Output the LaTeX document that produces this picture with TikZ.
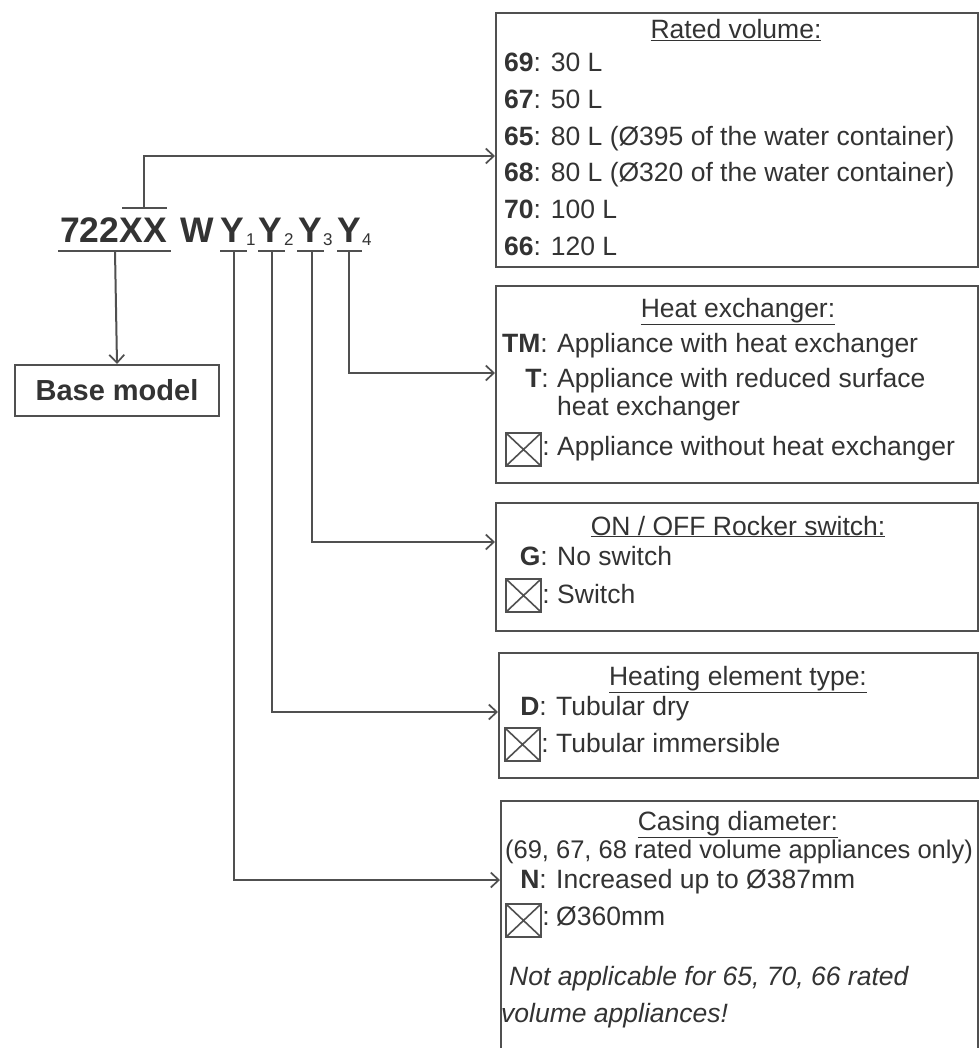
\documentclass[tikz,border=0pt]{standalone}
\usepackage{fontspec}
\setmainfont{Liberation Sans}
\usetikzlibrary{arrows.meta}
\definecolor{ink}{HTML}{333333}
\definecolor{edge}{HTML}{505050}
\begin{document}
\begin{tikzpicture}[x=1pt,y=-1pt,
  txt/.style={inner sep=0pt, anchor=base west, text=ink, font=\fontsize{26.5}{30}\selectfont},
  lbl/.style={txt, anchor=base east},
  ttl/.style={txt, anchor=base},
  ital/.style={txt, font=\fontsize{26.5}{30}\selectfont\itshape},
  code/.style={inner sep=0pt, anchor=base west, text=ink, font=\fontsize{35.5}{40}\selectfont\bfseries},
  subs/.style={inner sep=0pt, anchor=base west, text=ink, font=\fontsize{17}{20}\selectfont},
  panel/.style={draw=edge, line width=2pt, anchor=north west, inner sep=0pt},
  conn/.style={draw=edge, line width=2pt, -{Straight Barb[length=8pt,width=15pt,line width=1.7pt]}},
  bar/.style={draw=edge, line width=2.4pt},
  xbox/.style={draw=edge, line width=2pt, minimum width=35pt, minimum height=33pt, inner sep=0pt, anchor=north west,
    path picture={\draw[edge,line width=1.6pt] (path picture bounding box.south west) -- (path picture bounding box.north east)
      (path picture bounding box.north west) -- (path picture bounding box.south east);}}
]
\clip (0,0) rectangle (979,1048);
\fill[white] (0,0) rectangle (979,1048);

% ---------- code line ----------
\node[code] (c722) at (60,243) {722};
\node[code] (cXX) at (c722.base east) {XX};
\node[code] (cW) at (180,243) {W};
\node[code] (cY1) at (220,243) {Y};
\node[subs] (s1) at (246,246) {1};
\node[code] (cY2) at (258,243) {Y};
\node[subs] (s2) at (284,246) {2};
\node[code] (cY3) at (298,243) {Y};
\node[subs] (s3) at (323,246) {3};
\node[code] (cY4) at (337,243) {Y};
\node[subs] (s4) at (362,246) {4};

\draw[bar] (58,251) -- (171,251);
\draw[bar] (122,208) -- (167,208);
\draw[bar] (220,251) -- (247,251);
\draw[bar] (258,251) -- (285,251);
\draw[bar] (297,251) -- (324,251);
\draw[bar] (337,251) -- (362,251);

\coordinate (u722) at (115,251);
\coordinate (oXX) at (144,208);
\coordinate (u1) at (234,251);
\coordinate (u2) at (272,251);
\coordinate (u3) at (312,251);
\coordinate (u4) at (349,251);

\coordinate (h1) at (0,156);
\coordinate (h2) at (0,373);
\coordinate (h3) at (0,542);
\coordinate (h4) at (0,712);
\coordinate (h5) at (0,880);

% ---------- base model ----------
\node[panel, minimum width=204pt, minimum height=51pt, text=ink, font=\fontsize{29}{32}\selectfont\bfseries] (base) at (14,364) {Base model};

% ---------- panels ----------
\node[panel, minimum width=482pt, minimum height=254pt] (box1) at (495,12) {};
\node[panel, minimum width=482pt, minimum height=197pt] (box2) at (495,285) {};
\node[panel, minimum width=482pt, minimum height=128pt] (box3) at (495,502) {};
\node[panel, minimum width=479pt, minimum height=125pt] (box4) at (498,652) {};
\node[panel, minimum width=477pt, minimum height=300pt] (box5) at (500,800) {};

% ---------- connectors ----------
\draw[conn] (u722) -- (base.north);
\draw[conn] (oXX) |- (box1.west |- h1);
\draw[conn] (u4) |- (box2.west |- h2);
\draw[conn] (u3) |- (box3.west |- h3);
\draw[conn] (u2) |- (box4.west |- h4);
\draw[conn] (u1) |- (box5.west |- h5);

% ---------- box 1 ----------
\node[ttl] (t1) at (736,39) {\underline{Rated volume:}};
\node[txt] (r1) at (504,72) {\textbf{69}: 30 L};
\node[txt] (r2) at (504,109) {\textbf{67}: 50 L};
\node[txt] (r3) at (504,146) {\textbf{65}: 80 L (Ø395 of the water container)};
\node[txt] (r4) at (504,182) {\textbf{68}: 80 L (Ø320 of the water container)};
\node[txt] (r5) at (504,219) {\textbf{70}: 100 L};
\node[txt] (r6) at (504,256) {\textbf{66}: 120 L};

% ---------- box 2 ----------
\node[ttl] (t2) at (738,317) {\underline{Heat exchanger:}};
\node[lbl] (l21) at (548,352) {\textbf{TM}:};
\node[txt] (v21) at (557,352) {Appliance with heat exchanger};
\node[lbl] (l22) at (549,387) {\textbf{T}:};
\node[txt] (v22) at (557,387) {Appliance with reduced surface};
\node[txt] (v22b) at (557,415) {heat exchanger};
\node[xbox] (x2) at (505,432) {};
\node[lbl] (l23) at (550,455) {:};
\node[txt] (v23) at (557,455) {Appliance without heat exchanger};

% ---------- box 3 ----------
\node[ttl] (t3) at (738,535) {\underline{ON / OFF Rocker switch:}};
\node[lbl] (l31) at (548,565) {\textbf{G}:};
\node[txt] (v31) at (557,565) {No switch};
\node[xbox] (x3) at (505,578) {};
\node[lbl] (l32) at (550,603) {:};
\node[txt] (v32) at (557,603) {Switch};

% ---------- box 4 ----------
\node[ttl] (t4) at (738,685) {\underline{Heating element type:}};
\node[lbl] (l41) at (547,715) {\textbf{D}:};
\node[txt] (v41) at (556,715) {Tubular dry};
\node[xbox] (x4) at (504,727) {};
\node[lbl] (l42) at (549,752) {:};
\node[txt] (v42) at (556,752) {Tubular immersible};

% ---------- box 5 ----------
\node[ttl] (t5) at (738,830) {\underline{Casing diameter:}};
\node[ttl, font=\fontsize{25.5}{30}\selectfont] (v50) at (739,858) {(69, 67, 68 rated volume appliances only)};
\node[lbl] (l51) at (547,888) {\textbf{N}:};
\node[txt] (v51) at (556,888) {Increased up to Ø387mm};
\node[xbox] (x5) at (505,903) {};
\node[lbl] (l52) at (550,925) {:};
\node[txt] (v52) at (556,925) {Ø360mm};
\node[ital] (n1) at (509,985) {Not applicable for 65, 70, 66 rated};
\node[ital] (n2) at (501,1022) {volume appliances!};
\end{tikzpicture}
\end{document}
